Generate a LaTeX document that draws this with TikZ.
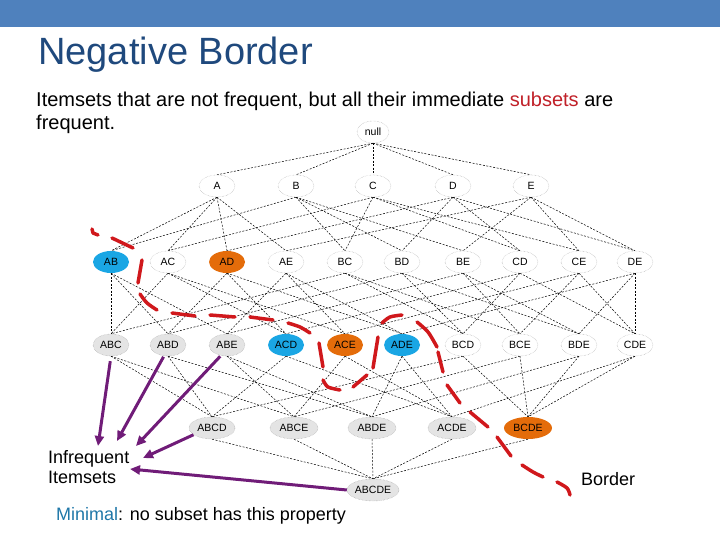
\documentclass[tikz,border=0pt]{standalone}
\usepackage{fontspec}
\setmainfont{Liberation Sans}
\usetikzlibrary{shapes.geometric,arrows.meta,backgrounds}
\definecolor{hdr}{RGB}{79,129,189}
\definecolor{ttl}{RGB}{31,73,125}
\definecolor{subred}{RGB}{192,32,40}
\definecolor{brd}{RGB}{208,24,28}
\definecolor{prp}{RGB}{112,28,120}
\definecolor{nblue}{RGB}{26,166,228}
\definecolor{norange}{RGB}{228,108,10}
\definecolor{ngray}{RGB}{228,228,228}
\definecolor{mincol}{RGB}{31,119,168}
\tikzset{
 itemnode/.style={ellipse, inner sep=0pt, minimum width=36pt, minimum height=22pt, font=\fontsize{10.5}{11}\selectfont},
 wnode/.style={itemnode, draw=black!40, densely dotted, fill=white},
 gnode/.style={itemnode, draw=black!40, densely dotted, fill=ngray},
 bnode/.style={itemnode, fill=nblue},
 onode/.style={itemnode, fill=norange},
 lattice/.style={draw=black, line width=0.5pt, dash pattern=on 2pt off 1.5pt},
 borderdash/.style={draw=brd, line width=3.5pt, line cap=round, line join=round},
 infarrow/.style={draw=prp, line width=3pt, -{Triangle[length=10pt,width=9pt]}},
 slidetext/.style={anchor=base west, inner sep=0pt},
}
\begin{document}
\begin{tikzpicture}[x=1pt,y=-1pt]
\useasboundingbox (0,0) rectangle (720,540);
\fill[hdr] (0,0) rectangle (720,27.5);
% texts
\node[slidetext, font=\fontsize{38}{46}\selectfont, text=ttl] (title) at (38,65) {Negative Border};
\node[slidetext, font=\fontsize{20}{24}\selectfont] (sub1) at (36,107) {Itemsets that are not frequent, but all their immediate \textcolor{subred}{subsets} are};
\node[slidetext, font=\fontsize{20}{24}\selectfont] (sub2) at (36,130) {frequent.};
\node[slidetext, font=\fontsize{18}{20}\selectfont] (inf1) at (48,463) {Infrequent};
\node[slidetext, font=\fontsize{18}{20}\selectfont] (inf2) at (48,483) {Itemsets};
\node[slidetext, font=\fontsize{18}{20}\selectfont] (minimal) at (56,520) {\textcolor{mincol}{Minimal}: no subset has this property};
\node[slidetext, font=\fontsize{18}{20}\selectfont] (border) at (581,485) {Border};
% lattice nodes
\node[wnode, minimum width=32pt] (n0) at (373,132) {null};
\node[wnode] (A) at (217,186) {A};
\node[wnode] (B) at (296,186) {B};
\node[wnode] (C) at (373,186) {C};
\node[wnode] (D) at (453,186) {D};
\node[wnode] (E) at (531,186) {E};
\node[bnode] (AB) at (111,262) {AB};
\node[wnode] (AC) at (168,262) {AC};
\node[onode] (AD) at (227,262) {AD};
\node[wnode] (AE) at (286,262) {AE};
\node[wnode] (BC) at (345,262) {BC};
\node[wnode] (BD) at (402,262) {BD};
\node[wnode] (BE) at (463,262) {BE};
\node[wnode] (CD) at (520,262) {CD};
\node[wnode] (CE) at (579,262) {CE};
\node[wnode] (DE) at (635,262) {DE};
\node[gnode] (ABC) at (111,345) {ABC};
\node[gnode] (ABD) at (168,345) {ABD};
\node[gnode] (ABE) at (227,345) {ABE};
\node[bnode] (ACD) at (286,345) {ACD};
\node[onode] (ACE) at (345,345) {ACE};
\node[bnode] (ADE) at (402,345) {ADE};
\node[wnode] (BCD) at (463,345) {BCD};
\node[wnode] (BCE) at (520,345) {BCE};
\node[wnode] (BDE) at (579,345) {BDE};
\node[wnode] (CDE) at (635,345) {CDE};
\node[gnode, minimum width=46pt] (ABCD) at (212,428) {ABCD};
\node[gnode, minimum width=48pt] (ABCE) at (294,428) {ABCE};
\node[gnode, minimum width=48pt] (ABDE) at (372,428) {ABDE};
\node[gnode, minimum width=48pt] (ACDE) at (452,428) {ACDE};
\node[onode, minimum width=48pt] (BCDE) at (528,428) {BCDE};
\node[gnode, minimum width=52pt] (ABCDE) at (373,490) {ABCDE};
% lattice edges
\begin{scope}[on background layer]
\foreach \c/\ps in {A/{n0},B/{n0},C/{n0},D/{n0},E/{n0},
  AB/{A,B},AC/{A,C},AD/{A,D},AE/{A,E},BC/{B,C},BD/{B,D},BE/{B,E},CD/{C,D},CE/{C,E},DE/{D,E},
  ABC/{AB,AC,BC},ABD/{AB,AD,BD},ABE/{AB,AE,BE},ACD/{AC,AD,CD},ACE/{AC,AE,CE},
  ADE/{AD,AE,DE},BCD/{BC,BD,CD},BCE/{BC,BE,CE},BDE/{BD,BE,DE},CDE/{CD,CE,DE},
  ABCD/{ABC,ABD,ACD,BCD},ABCE/{ABC,ABE,ACE,BCE},ABDE/{ABD,ABE,ADE,BDE},
  ACDE/{ACD,ACE,ADE,CDE},BCDE/{BCD,BCE,BDE,CDE},
  ABCDE/{ABCD,ABCE,ABDE,ACDE,BCDE}}
  {\foreach \p in \ps {\draw[lattice] (\p.south) -- (\c.north);}}
\end{scope}
% negative border (red dashed curve)
\draw[borderdash] (92,229) -- (93,233) -- (98,235);
\draw[borderdash] (112,238) -- (133,248);
\draw[borderdash] (142,260) -- (138,283);
\draw[borderdash] plot[smooth] coordinates {(140,294) (147,303) (157,310)};
\draw[borderdash] (172,313) -- (195,316);
\draw[borderdash] (210,315) -- (235,317);
\draw[borderdash] (250,317) -- (273,320);
\draw[borderdash] plot[smooth] coordinates {(288,323) (300,327) (310,333)};
\draw[borderdash] (319,343) -- (323,367);
\draw[borderdash] plot[smooth] coordinates {(323,380) (328,387) (340,390)};
\draw[borderdash] (353,387) -- (367,375);
\draw[borderdash] (373,368) -- (378,337);
\draw[borderdash] plot[smooth] coordinates {(382,323) (390,317) (402,315)};
\draw[borderdash] plot[smooth] coordinates {(417,322) (428,332) (437,347)};
\draw[borderdash] (438,352) -- (443,372);
\draw[borderdash] (447,385) -- (460,403);
\draw[borderdash] (470,412) -- (488,427);
\draw[borderdash] (497,437) -- (511,456);
\draw[borderdash] plot[smooth] coordinates {(522,465) (533,472) (543,477)};
\draw[borderdash] plot[smooth] coordinates {(557,482) (567,488) (570,495)};
% arrows to "Infrequent Itemsets"
\coordinate (t1) at (98,446);
\coordinate (t2) at (117,441);
\coordinate (t3) at (136,446);
\coordinate (t4) at (143,458);
\coordinate (t5) at (130,469);
\draw[infarrow, shorten <=5pt] (ABC.south) -- (t1);
\draw[infarrow, shorten <=1pt] (ABD.250) -- (t2);
\draw[infarrow, shorten <=1pt] (ABE.240) -- (t3);
\draw[infarrow] (ABCD.200) -- (t4);
\draw[infarrow] (ABCDE.west) -- (t5);
\end{tikzpicture}
\end{document}
